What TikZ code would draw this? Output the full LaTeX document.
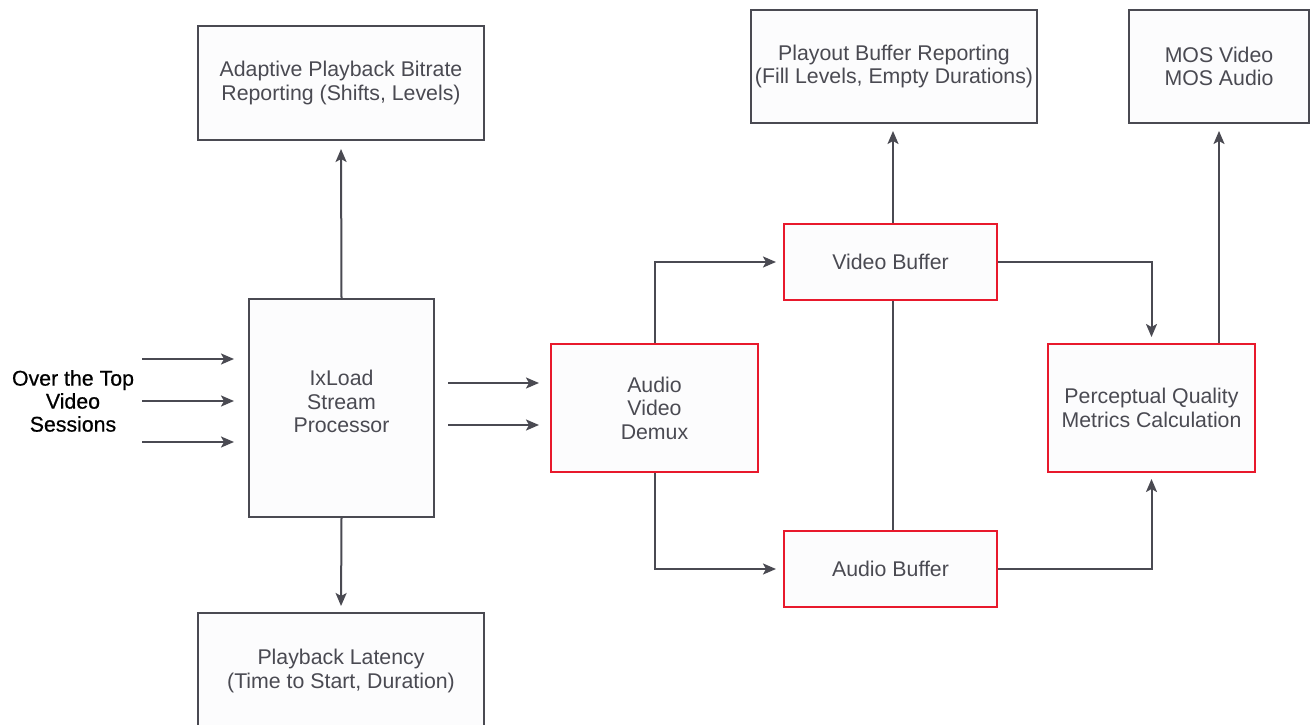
\documentclass[tikz,border=0pt]{standalone}
\usepackage{fontspec}
\setmainfont{Liberation Sans}
\newfontfamily\ottfont[FakeBold=0.6]{Liberation Sans}
\usetikzlibrary{arrows.meta}
\definecolor{ln}{HTML}{4A4A52}
\definecolor{tx}{HTML}{4A4A52}
\definecolor{rd}{HTML}{E8192C}
\definecolor{bg}{HTML}{FCFCFD}
\tikzset{
  box/.style={draw=ln, line width=2pt, fill=bg, rectangle, inner sep=0pt, align=center,
    text=tx, font=\fontsize{21.3}{23.5}\selectfont},
  redbox/.style={box, draw=rd},
  conn/.style={draw=ln, line width=2pt, -{Stealth[length=13pt,width=11pt,inset=3pt]}},
  plain/.style={draw=ln, line width=2pt}
}
\begin{document}
\begin{tikzpicture}[x=1pt,y=-1pt]
\useasboundingbox (0,0) rectangle (1312,725);
\fill[white] (0,0) rectangle (1312,725);
\node[box, minimum width=286pt, minimum height=114pt] (adapt) at (341,83) {Adaptive Playback Bitrate\\Reporting (Shifts, Levels)};
\node[box, minimum width=185pt, minimum height=218pt] (ixl) at (341.5,408) {IxLoad\\Stream\\Processor\\[-11pt]\mbox{}};
\node[box, minimum width=286pt, minimum height=116pt] (lat) at (341,671) {Playback Latency\\(Time to Start, Duration)};
\node[box, minimum width=286pt, minimum height=113pt] (playout) at (894,66.5) {Playout Buffer Reporting\\(Fill Levels, Empty Durations)};
\node[box, minimum width=180pt, minimum height=113pt] (mos) at (1219,66.5) {MOS Video\\MOS Audio};
\node[redbox, minimum width=213pt, minimum height=76pt] (vbuf) at (890.5,262) {Video Buffer};
\node[redbox, minimum width=213pt, minimum height=76pt] (abuf) at (890.5,569) {Audio Buffer};
\node[redbox, minimum width=207pt, minimum height=128pt] (demux) at (654.5,408) {Audio\\Video\\Demux};
\node[redbox, minimum width=207pt, minimum height=128pt] (pq) at (1151.5,408) {Perceptual Quality\\Metrics Calculation};
\node[align=center, font=\ottfont\fontsize{21.3}{23}\selectfont, text=black] (ott) at (73,401) {Over the Top\\Video\\Sessions};
% inputs
\coordinate (i1) at (142,359);
\coordinate (i2) at (142,401);
\coordinate (i3) at (142,442);
\draw[conn, shorten >=14pt] (i1) -- (i1 -| ixl.west);
\draw[conn, shorten >=14pt] (i2) -- (i2 -| ixl.west);
\draw[conn, shorten >=14pt] (i3) -- (i3 -| ixl.west);
% ixl -> demux
\coordinate (d1) at (500,383);
\coordinate (d2) at (500,425);
\draw[conn, shorten <=13pt, shorten >=11pt] (d1 -| ixl.east) -- (d1 -| demux.west);
\draw[conn, shorten <=13pt, shorten >=11pt] (d2 -| ixl.east) -- (d2 -| demux.west);
% ixl up/down
\draw[conn, shorten >=8pt] (ixl.north) -- (adapt.south);
\draw[conn, shorten >=6pt] (ixl.south) -- (lat.north);
% demux to buffers
\draw[conn, shorten >=7pt] (demux.north) |- (vbuf.west);
\draw[conn, shorten >=7pt] (demux.south) |- (abuf.west);
% video buffer
\draw[conn, shorten >=7pt] ([xshift=2.5pt]vbuf.north) -- ([xshift=2.5pt]vbuf.north |- playout.south);
\draw[plain] ([xshift=2.5pt]vbuf.south) -- ([xshift=2.5pt]abuf.north);
\draw[conn, shorten >=6pt] (vbuf.east) -| (pq.north);
\draw[conn, shorten >=6pt] (abuf.east) -| (pq.south);
% pq to mos
\draw[conn, shorten >=7pt] (pq.north -| mos.south) -- (mos.south);
\end{tikzpicture}
\end{document}
